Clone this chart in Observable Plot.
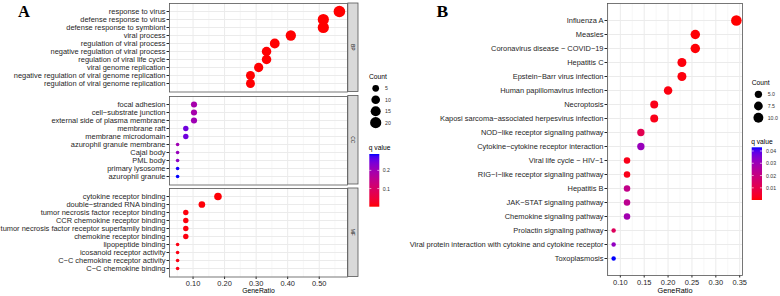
<!DOCTYPE html>
<html><head><meta charset="utf-8">
<script src="https://cdn.jsdelivr.net/npm/d3@7"></script>
<script src="https://cdn.jsdelivr.net/npm/@observablehq/plot@0.6"></script>
<style>
body{margin:0;background:#fff;}
#root{position:relative;width:780px;height:296px;overflow:hidden;background:#fff;}
</style></head>
<body><div id="root"></div>
<script>
// ---------- Panel A data (GO enrichment) ----------
const bpTerms = ["response to virus","defense response to virus","defense response to symbiont","viral process","regulation of viral process","negative regulation of viral process","regulation of viral life cycle","viral genome replication","negative regulation of viral genome replication","regulation of viral genome replication"];
const bpRatio = [0.564,0.513,0.513,0.410,0.359,0.333,0.333,0.308,0.282,0.282];
const bpCount = [22,20,20,16,14,13,13,12,11,11];
const bpQ = [0.0002,0.0003,0.0003,0.0005,0.0008,0.001,0.001,0.0012,0.0015,0.0015];

const ccTerms = ["focal adhesion","cell\u2212substrate junction","external side of plasma membrane","membrane raft","membrane microdomain","azurophil granule membrane","Cajal body","PML body","primary lysosome","azurophil granule"];
const ccRatio = [0.103,0.103,0.103,0.077,0.077,0.051,0.051,0.051,0.051,0.051];
const ccCount = [4,4,4,3,3,2,2,2,2,2];
const ccQ = [0.19,0.19,0.20,0.25,0.25,0.20,0.21,0.22,0.288,0.29];

const mfTerms = ["cytokine receptor binding","double\u2212stranded RNA binding","tumor necrosis factor receptor binding","CCR chemokine receptor binding","tumor necrosis factor receptor superfamily binding","chemokine receptor binding","lipopeptide binding","icosanoid receptor activity","C\u2212C chemokine receptor activity","C\u2212C chemokine binding"];
const mfRatio = [0.179,0.128,0.077,0.077,0.077,0.077,0.051,0.051,0.051,0.051];
const mfCount = [7,5,3,3,3,3,2,2,2,2];
const mfQ = [0.003,0.004,0.006,0.006,0.007,0.008,0.009,0.009,0.01,0.01];

const xTicksA = [0.1,0.2,0.3,0.4,0.5];
const xMinorA = [0.05,0.15,0.25,0.35,0.45,0.55];
const sizeKeysA = [5,10,15,20];
const qTicksA = [0.1,0.2];

// ---------- Panel B data (KEGG enrichment) ----------
const bTerms = ["Influenza A","Measles","Coronavirus disease \u2212 COVID\u221219","Hepatitis C","Epstein\u2212Barr virus infection","Human papillomavirus infection","Necroptosis","Kaposi sarcoma\u2212associated herpesvirus infection","NOD\u2212like receptor signaling pathway","Cytokine\u2212cytokine receptor interaction","Viral life cycle \u2212 HIV\u22121","RIG\u2212I\u2212like receptor signaling pathway","Hepatitis B","JAK\u2212STAT signaling pathway","Chemokine signaling pathway","Prolactin signaling pathway","Viral protein interaction with cytokine and cytokine receptor","Toxoplasmosis"];
const bRatio = [0.343,0.257,0.257,0.229,0.229,0.200,0.171,0.171,0.143,0.143,0.114,0.114,0.114,0.114,0.114,0.086,0.086,0.086];
const bCount = [12,9,9,8,8,7,6,6,5,5,4,4,4,4,4,3,3,3];
const bQ = [0.0001,0.0004,0.0005,0.001,0.001,0.0012,0.002,0.002,0.011,0.031,0.002,0.002,0.0215,0.023,0.029,0.013,0.032,0.043];

const xTicksB = [0.10,0.15,0.20,0.25,0.30,0.35];
const xMinorB = [0.075,0.125,0.175,0.225,0.275,0.325];
const sizeKeysB = [5,7.5,10];
const qTicksB = [0.01,0.02,0.03,0.04];

// ---------- build ----------
const font = '"Liberation Sans", Arial, Helvetica, sans-serif';
const root = document.getElementById("root");
function place(el, left, top){ el.style.position="absolute"; el.style.left=left+"px"; el.style.top=top+"px"; root.appendChild(el); }
const rows = (terms, ratio, count, q) => terms.map((t,i)=>({term:t, ratio:ratio[i], count:count[i], q:q[i]}));

const rowsBP = rows(bpTerms,bpRatio,bpCount,bpQ);
const rowsCC = rows(ccTerms,ccRatio,ccCount,ccQ);
const rowsMF = rows(mfTerms,mfRatio,mfCount,mfQ);
const allA = [...rowsBP,...rowsCC,...rowsMF];
const rowsB = rows(bTerms,bRatio,bCount,bQ);

function expand(ext){ const p=(ext[1]-ext[0])*0.05; return [ext[0]-p, ext[1]+p]; }
const xDomA = expand(d3.extent(allA,d=>d.ratio));
const xDomB = expand(d3.extent(rowsB,d=>d.ratio));
const cMinA = d3.min(allA,d=>d.count), cMaxA = d3.max(allA,d=>d.count);
const cMinB = d3.min(rowsB,d=>d.count), cMaxB = d3.max(rowsB,d=>d.count);
const rOptsA = {type:"pow", exponent:0.5, domain:[0,cMaxA-cMinA], range:[1.8,5.8]};
const rOptsB = {type:"pow", exponent:0.5, domain:[0,cMaxB-cMinB], range:[2.2,5.3]};
const colorOptsA = {type:"linear", domain:d3.extent(allA,d=>d.q), range:["red","blue"], interpolate:"lab"};
const colorOptsB = {type:"linear", domain:d3.extent(rowsB,d=>d.q), range:["red","blue"], interpolate:"lab"};

const baseStyle = {background:"transparent", fontFamily:font, fontSize:"7.45px", color:"#262626", overflow:"visible"};

function facetA(data, terms, frameTop, frameH, bottomAxis){
  const mb = bottomAxis ? 19.5 : 2;
  const xOpts = bottomAxis ? {domain:xDomA} : {domain:xDomA, axis:null};
  const p = Plot.plot({
    width:348, height:2+frameH+mb,
    marginLeft:169, marginRight:1, marginTop:2, marginBottom:mb,
    style: baseStyle,
    x: xOpts,
    y: {type:"point", domain:terms, padding:0.6},
    r: rOptsA, color: colorOptsA,
    marks: [
      Plot.ruleX(xMinorA, {stroke:"#f3f3f3", strokeWidth:0.7}),
      Plot.ruleX(xTicksA, {stroke:"#ebebeb", strokeWidth:1}),
      Plot.ruleY(terms, {stroke:"#ebebeb", strokeWidth:1}),
      Plot.axisY({tickSize:2.5, tickPadding:1.5, label:null}),
      bottomAxis ? Plot.axisX({ticks:xTicksA, tickSize:2.5, tickPadding:1.2, label:null}) : null,
      bottomAxis ? Plot.text(["GeneRatio"], {text:d=>d, frameAnchor:"bottom", dy:15.8, fontSize:6.8, fill:"#000"}) : null,
      Plot.dot(data, {x:"ratio", y:"term", r:d=>d.count-cMinA, fill:"q"}),
      Plot.frame({stroke:"#555", strokeWidth:0.8})
    ]
  });
  place(p, 0, frameTop-2);
  return p;
}
facetA(rowsBP, bpTerms, 3, 88.5, false);
facetA(rowsCC, ccTerms, 95.5, 88.5, false);
facetA(rowsMF, mfTerms, 188, 88.5, true);

const pB = Plot.plot({
  width:343, height:295,
  marginLeft:207, marginRight:1, marginTop:2, marginBottom:21,
  style: baseStyle,
  x: {domain:xDomB},
  y: {type:"point", domain:bTerms, padding:0.6},
  r: rOptsB, color: colorOptsB,
  marks: [
    Plot.ruleX(xMinorB, {stroke:"#f3f3f3", strokeWidth:0.7}),
    Plot.ruleX(xTicksB, {stroke:"#ebebeb", strokeWidth:1}),
    Plot.ruleY(bTerms, {stroke:"#ebebeb", strokeWidth:1}),
    Plot.axisY({tickSize:2.5, tickPadding:1.5, label:null}),
    Plot.axisX({ticks:xTicksB, tickFormat:d3.format(".2f"), tickSize:2.5, tickPadding:1.8, label:null}),
    Plot.text(["GeneRatio"], {text:d=>d, frameAnchor:"bottom", dy:17.4, fontSize:7.3, fill:"#000"}),
    Plot.dot(rowsB, {x:"ratio", y:"term", r:d=>d.count-cMinB, fill:"q"}),
    Plot.frame({stroke:"#555", strokeWidth:0.8})
  ]
});
place(pB, 400, 1);

// ---------- overlay: tags, strips, legends ----------
const svg = d3.create("svg").attr("width",780).attr("height",296)
  .style("position","absolute").style("left","0px").style("top","0px")
  .style("font-family", font);
const defs = svg.append("defs");

svg.append("text").attr("x",18).attr("y",16.7).attr("font-family",'"Liberation Serif","Times New Roman",serif')
  .attr("font-weight","bold").attr("font-size",16.5).text("A");
svg.append("text").attr("x",436.5).attr("y",17.3).attr("font-family",'"Liberation Serif","Times New Roman",serif')
  .attr("font-weight","bold").attr("font-size",17.5).text("B");

// facet strips
[["BP",3],["CC",95.5],["MF",188]].forEach(([lab,top])=>{
  svg.append("rect").attr("x",347.8).attr("y",top).attr("width",10.2).attr("height",88.5)
    .attr("fill","#d9d9d9").attr("stroke","#555").attr("stroke-width",0.8);
  svg.append("text").attr("transform",`translate(${353},${top+44.25}) rotate(90)`)
    .attr("text-anchor","middle").attr("dominant-baseline","central")
    .attr("font-size",5).attr("fill","#1a1a1a").text(lab);
});

function sizeLegend(rOpts, cMin, keys, fmt, x0, titleY, y0, step){
  const rs = Plot.scale({r:rOpts});
  svg.append("text").attr("x",x0).attr("y",titleY).attr("dominant-baseline","central")
    .attr("font-size",6.7).attr("fill","#000").text("Count");
  keys.forEach((v,i)=>{
    const cy = y0 + i*step;
    svg.append("circle").attr("cx",x0+6.7).attr("cy",cy).attr("r",rs.apply(v-cMin)).attr("fill","#000");
    svg.append("text").attr("x",x0+16).attr("y",cy).attr("dominant-baseline","central")
      .attr("font-size",5.2).attr("fill","#333").text(fmt(v));
  });
}
sizeLegend(rOptsA, cMinA, sizeKeysA, d=>String(d), 369, 76, 88.3, 11.45);
sizeLegend(rOptsB, cMinB, sizeKeysB, d3.format(".1f"), 751.7, 82.3, 94.3, 11.7);

function colorbar(id, opts, ticks, fmt, x, titleY, y, w, h, labelX){
  const cs = Plot.scale({color:opts});
  const [d0,d1] = opts.domain;
  const grad = defs.append("linearGradient").attr("id",id).attr("x1",0).attr("x2",0).attr("y1",1).attr("y2",0);
  for(let i=0;i<=20;i++){ const t=i/20; grad.append("stop").attr("offset",t).attr("stop-color",cs.apply(d0+t*(d1-d0))); }
  svg.append("text").attr("x",x-0.5).attr("y",titleY).attr("dominant-baseline","central")
    .attr("font-size",6.7).attr("fill","#000").text("q value");
  svg.append("rect").attr("x",x).attr("y",y).attr("width",w).attr("height",h).attr("fill",`url(#${id})`);
  const ys = d3.scaleLinear().domain([d0,d1]).range([y+h,y]);
  ticks.forEach(t=>{
    const ty = ys(t);
    svg.append("line").attr("x1",x).attr("x2",x+w/5).attr("y1",ty).attr("y2",ty).attr("stroke","#fff").attr("stroke-width",0.6);
    svg.append("line").attr("x1",x+w-w/5).attr("x2",x+w).attr("y1",ty).attr("y2",ty).attr("stroke","#fff").attr("stroke-width",0.6);
    svg.append("text").attr("x",labelX).attr("y",ty).attr("dominant-baseline","central")
      .attr("font-size",5.2).attr("fill","#333").text(fmt(t));
  });
}
colorbar("gradA", colorOptsA, qTicksA, d=>String(d), 369.3, 147.3, 154, 10, 52.7, 382.7);
colorbar("gradB", colorOptsB, qTicksB, d=>String(d), 751.7, 141.7, 147.3, 10.3, 52.7, 766);

root.appendChild(svg.node());
</script>
</body></html>
